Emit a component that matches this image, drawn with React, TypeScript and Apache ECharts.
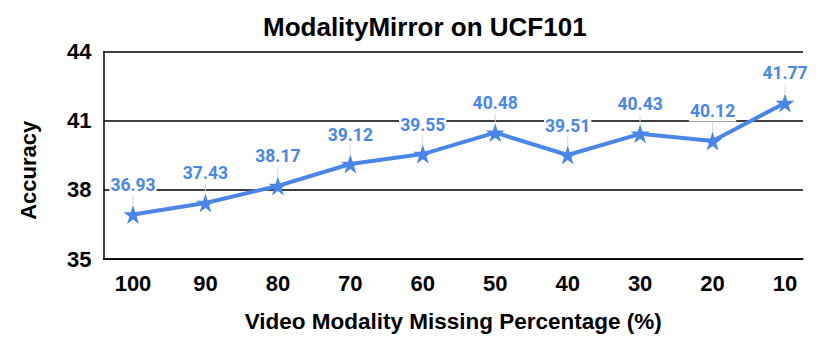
import React, { useEffect, useRef } from "react";
import * as echarts from "echarts";

const categories = ["100", "90", "80", "70", "60", "50", "40", "30", "20", "10"];
const accuracy = [36.93, 37.43, 38.17, 39.12, 39.55, 40.48, 39.51, 40.43, 40.12, 41.77];
const yMin = 35;
const yMax = 44;
const yInterval = 3;

const BLUE = "#4a86e8";
const FONT = "'Liberation Sans', Arial, sans-serif";

export default function App() {
  const ref = useRef<HTMLDivElement>(null);
  useEffect(() => {
    const chart = echarts.init(ref.current!, null, { renderer: "svg" });
    const top = 51.5;
    const bottom = 84;
    chart.setOption({
      animation: false,
      backgroundColor: "#ffffff",
      title: {
        text: "ModalityMirror on UCF101",
        left: 258,
        top: 9,
        textStyle: { fontFamily: FONT, fontWeight: "bold", fontSize: 26, color: "#000" },
      },
      grid: [
        { left: 103.5, right: 27, top, bottom },
        { left: 133, right: 45, top, bottom },
      ],
      xAxis: [
        {
          gridIndex: 0,
          type: "category",
          data: categories,
          axisLine: { show: true, lineStyle: { color: "#000", width: 1.5 } },
          axisTick: { show: false },
          axisLabel: { show: false },
          name: "Video Modality Missing Percentage (%)",
          nameLocation: "middle",
          nameGap: 51,
          nameTextStyle: { fontFamily: FONT, fontWeight: "bold", fontSize: 22.5, color: "#000" },
        },
        {
          gridIndex: 1,
          type: "category",
          data: categories,
          boundaryGap: false,
          axisLine: { show: false },
          axisTick: { show: false },
          axisLabel: { margin: 13, fontFamily: FONT, fontWeight: "bold", fontSize: 22, color: "#000" },
        },
      ],
      yAxis: [
        {
          gridIndex: 0,
          type: "value",
          min: yMin,
          max: yMax,
          interval: yInterval,
          axisLine: { show: true, lineStyle: { color: "#000", width: 1.5 } },
          axisTick: { show: false },
          splitLine: { show: true, lineStyle: { color: "#000", width: 1.5 } },
          axisLabel: { margin: 12, fontFamily: FONT, fontWeight: "bold", fontSize: 22, color: "#000" },
          name: "Accuracy",
          nameLocation: "middle",
          nameGap: 64,
          nameTextStyle: { fontFamily: FONT, fontWeight: "bold", fontSize: 22, color: "#000", padding: [0, 30, 0, 0] },
        },
        {
          gridIndex: 1,
          type: "value",
          min: yMin,
          max: yMax,
          interval: yInterval,
          axisLine: { show: false },
          axisTick: { show: false },
          splitLine: { show: false },
          axisLabel: { show: false },
        },
      ],
      series: [
        {
          type: "line",
          xAxisIndex: 1,
          yAxisIndex: 1,
          data: accuracy,
          symbol: "path://M50,0 L61.8,35.1 L98.5,35.1 L68.8,56.9 L80.2,91.9 L50,70.3 L19.8,91.9 L31.2,56.9 L1.5,35.1 L38.2,35.1 Z",
          symbolSize: 19,
          itemStyle: { color: BLUE },
          lineStyle: { color: BLUE, width: 4 },
          label: {
            show: true,
            position: "top",
            distance: 4,
            color: BLUE,
            fontFamily: "Roboto, sans-serif",
            fontWeight: "bold",
            fontSize: 17.5,
            backgroundColor: "#ffffff",
            padding: [1, 1],
            formatter: (p: any) => p.value.toFixed(2),
          },
          labelLayout: { dy: -6 },
          labelLine: { show: true, lineStyle: { color: "#d9d9d9", width: 1 } },
        },
      ],
    });
    return () => chart.dispose();
  }, []);
  return <div ref={ref} style={{ width: 830, height: 343, margin: -8 }} />;
}
